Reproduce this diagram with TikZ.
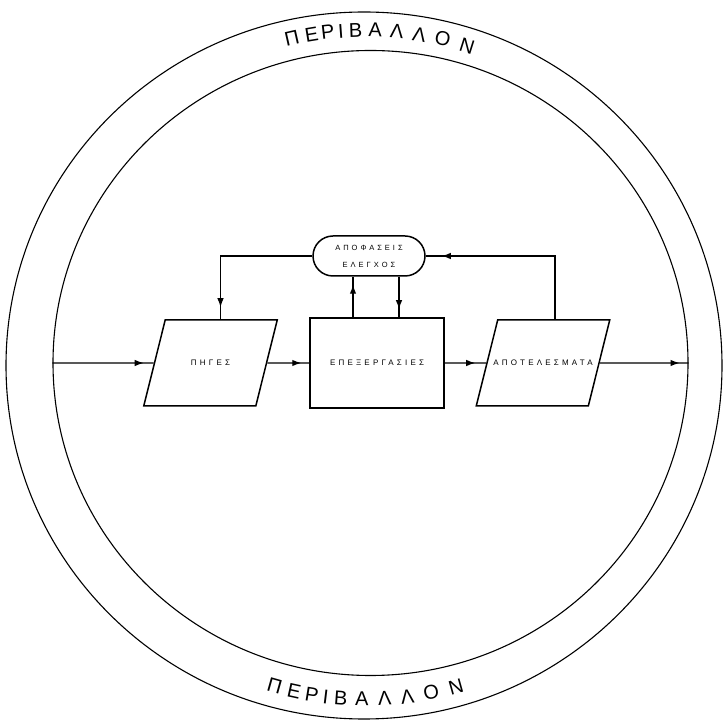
\documentclass[tikz,border=0pt]{standalone}
\usepackage{fontspec}
\setmainfont{Liberation Sans}
\newfontfamily\boxfont[LetterSpace=40]{Liberation Sans}
\usetikzlibrary{shapes.geometric,arrows.meta,decorations.markings,calc}
\begin{document}
\begin{tikzpicture}[x=1pt,y=1pt,
  ring/.style={ellipse, draw, line width=1.1pt, inner sep=0pt},
  para/.style={trapezium, trapezium left angle=76, trapezium right angle=104,
    draw, line width=1.5pt, inner xsep=0pt, inner ysep=40.5pt,
    text height=5pt, text depth=0pt, font=\boxfont\fontsize{8}{9}\selectfont},
  procbox/.style={rectangle, draw, line width=1.5pt, minimum width=134pt,
    minimum height=90pt, font=\boxfont\fontsize{8}{9}\selectfont},
  decbox/.style={rectangle, rounded corners=20pt, draw, line width=1.5pt,
    minimum width=112pt, minimum height=40pt, align=center,
    font=\boxfont\fontsize{7.5}{17}\selectfont},
  conn/.style={line width=1.2pt},
  arrat/.style={postaction={decorate}, decoration={markings,
    mark=at position #1 with {\arrow{Latex[length=9pt,width=6.5pt]}}}},
  envletter/.style={font=\fontsize{20}{20}\selectfont, inner sep=0pt}
]
\useasboundingbox (0,0) rectangle (725,720);

% environment rings
\node[ring, minimum width=716pt, minimum height=707pt] (outer) at (364,354.5) {};
\node[ring, minimum width=635pt, minimum height=625pt] (env) at (370.5,357) {};

% boxes
\node[para] (pig) at (210.5,357) {\makebox[90.6pt]{ΠΗΓΕΣ}};
\node[procbox] (proc) at (377,357) {ΕΠΕΞΕΡΓΑΣΙΕΣ};
\node[para] (res) at (543,357) {\makebox[90.6pt]{ΑΠΟΤΕΛΕΣΜΑΤΑ}};
\node[decbox] (dec) at (369,464) {ΑΠΟΦΑΣΕΙΣ\\ΕΛΕΓΧΟΣ};

% main flow
\draw[conn, arrat=-10pt] (env.west) -- (pig.west);
\draw[conn, arrat=-8pt] (pig.east) -- (proc.west);
\draw[conn, arrat=-11pt] (proc.east) -- (res.west);
\draw[conn, arrat=-9pt] (res.east) -- (env.east);

% feedback / control
\coordinate (pigtop) at ([xshift=10pt]pig.north);
\coordinate (restop) at ([xshift=12pt]res.north);
\coordinate (pl) at ([xshift=-24pt]proc.north);
\coordinate (pr) at ([xshift=22pt]proc.north);
\draw[conn, arrat=-12pt] (dec.west) -| (pigtop);
\draw[conn, arrat=-16pt] (restop) |- (dec.east);
\draw[conn, arrat=-8pt] (pl) -- (pl |- dec.south);
\draw[conn, arrat=-8pt] (pr |- dec.south) -- (pr);

% environment labels
\coordinate (lc) at (366,356);
\foreach \a/\l [count=\i] in {102.8/Π,99.4/Ε,96.6/Ρ,94.3/Ι,91.8/Β,88.4/Α,84.7/Λ,80.8/Λ,76.7/Ο,72.4/Ν}
  \node[envletter, rotate=\a-90] (top\i) at ([shift={(\a:334pt)}]lc) {\l};
\foreach \a/\l [count=\i] in {-105.8/Π,-102.4/Ε,-99.3/Ρ,-96.9/Ι,-94.3/Β,-90.7/Α,-86.8/Λ,-82.9/Λ,-78.8/Ο,-74.4/Ν}
  \node[envletter, rotate=\a+90] (bot\i) at ([shift={(\a:335pt)}]lc) {\l};
\end{tikzpicture}
\end{document}
